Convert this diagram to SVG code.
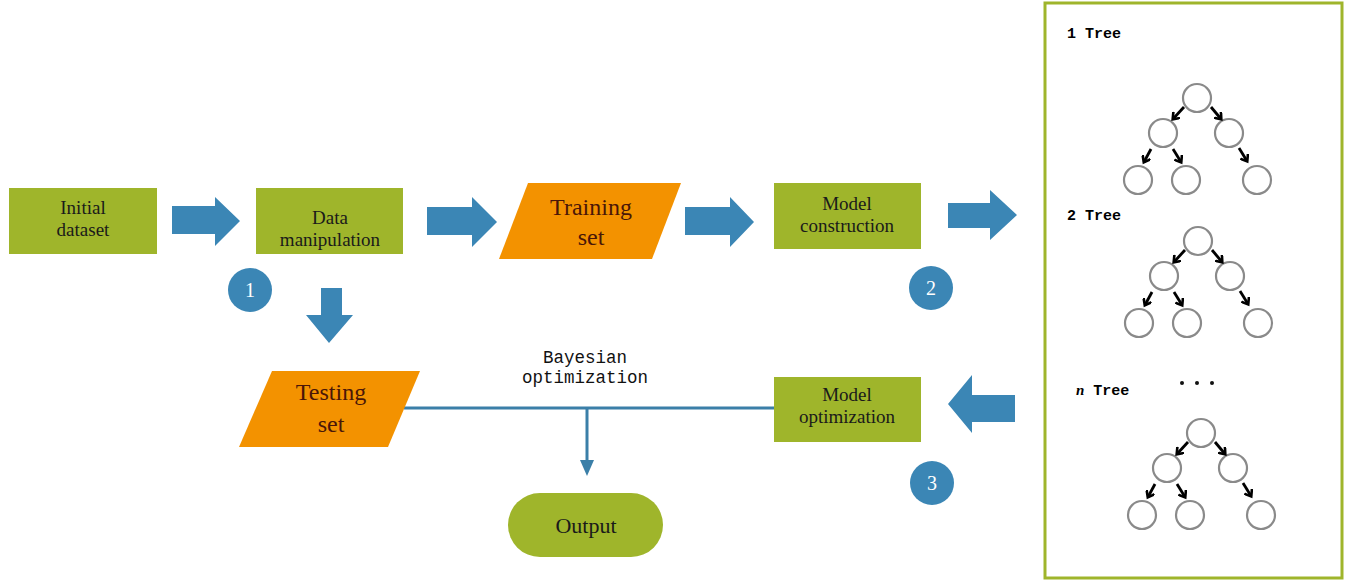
<svg xmlns="http://www.w3.org/2000/svg" width="1352" height="582" viewBox="0 0 1352 582">
<style>
.box{fill:#9fb52b}
.para{fill:#f39200}
.barrow{fill:#3b86b5}
.lbl{font-family:"Liberation Serif","Times New Roman",serif;font-size:19px;fill:#1a1a1a;text-anchor:middle}
.lblo{font-family:"Liberation Serif","Times New Roman",serif;font-size:24px;fill:#4a1608;text-anchor:middle}
.num{font-family:"Liberation Serif",serif;font-size:20px;fill:#ffffff;text-anchor:middle}
.mono{font-family:"Liberation Mono","DejaVu Sans Mono",monospace;font-size:17.5px;fill:#111;text-anchor:middle}
.tlab{font-family:"Liberation Mono","DejaVu Sans Mono",monospace;font-size:15px;fill:#000;font-weight:bold}
.node{fill:none;stroke:#8a8a8a;stroke-width:2.2}
.tarr{stroke:#000;stroke-width:2.8;fill:none;marker-end:url(#ah)}
.bline{stroke:#3b7fa8;stroke-width:3;fill:none}
</style>
<defs>
<marker id="ah" markerWidth="10" markerHeight="10" refX="6" refY="5" orient="auto" markerUnits="userSpaceOnUse">
<path d="M0.5,0.5 L6.5,5 L0.5,9.5" fill="none" stroke="#000" stroke-width="2.6"/>
</marker>
<g id="tree">
<circle class="node" cx="0" cy="0" r="14"/>
<circle class="node" cx="-34" cy="35" r="14"/>
<circle class="node" cx="32" cy="35" r="14"/>
<circle class="node" cx="-59" cy="82" r="14"/>
<circle class="node" cx="-11" cy="82" r="14"/>
<circle class="node" cx="60" cy="82" r="14"/>
<path class="tarr" d="M-13,9 L-24,21"/>
<path class="tarr" d="M14,9 L24,21"/>
<path class="tarr" d="M-46,51 L-53,64"/>
<path class="tarr" d="M-24,51 L-16,64"/>
<path class="tarr" d="M42,50 L50,63"/>
</g>
</defs>
<rect width="1352" height="582" fill="#ffffff"/>

<g id="connectors">
<polygon class="barrow" points="172,206 215,206 215,197 240,221 215,246 215,234 172,234"/>
<polygon class="barrow" points="427,207 472,207 472,197 497,222 472,247 472,235 427,235"/>
<polygon class="barrow" points="685,207 730,207 730,197 754,222 730,247 730,235 685,235"/>
<polygon class="barrow" points="948,203 990,203 990,190 1017,215 990,240 990,228 948,228"/>
<polygon class="barrow" points="321,288 342,288 342,315 353,315 329,343 306,315 321,315"/>
<polygon class="barrow" points="1015,395 972,395 972,375 948,404 972,433 972,422 1015,422"/>
<path class="bline" d="M404,408 L774,408"/>
<path class="bline" d="M587,408 L587,462"/>
<polygon fill="#3b7fa8" points="580,460 594,460 587,476"/>
<text class="mono" x="585" y="363">Bayesian</text>
<text class="mono" x="585" y="383">optimization</text>
</g>

<g id="initial-dataset">
<rect class="box" x="9" y="188" width="148" height="66"/>
<text class="lbl" x="83" y="214">Initial</text>
<text class="lbl" x="83" y="236">dataset</text>
</g>
<g id="data-manipulation">
<rect class="box" x="256" y="188" width="147" height="66"/>
<text class="lbl" x="330" y="224">Data</text>
<text class="lbl" x="330" y="246">manipulation</text>
</g>
<g id="circle-1">
<circle class="barrow" cx="250" cy="290" r="22"/>
<text class="num" x="250" y="297">1</text>
</g>
<g id="training-set">
<polygon class="para" points="528,183 681,183 652,259 499,259"/>
<text class="lblo" x="591" y="215">Training</text>
<text class="lblo" x="591" y="245">set</text>
</g>
<g id="model-construction">
<rect class="box" x="774" y="183" width="147" height="66"/>
<text class="lbl" x="847" y="210">Model</text>
<text class="lbl" x="847" y="232">construction</text>
</g>
<g id="circle-2">
<circle class="barrow" cx="931" cy="288" r="22"/>
<text class="num" x="931" y="295">2</text>
</g>
<g id="testing-set">
<polygon class="para" points="272,371 420,371 388,447 239,447"/>
<text class="lblo" x="331" y="400">Testing</text>
<text class="lblo" x="331" y="432">set</text>
</g>
<g id="model-optimization">
<rect class="box" x="774" y="377" width="147" height="65"/>
<text class="lbl" x="847" y="401">Model</text>
<text class="lbl" x="847" y="423">optimization</text>
</g>
<g id="circle-3">
<circle class="barrow" cx="932" cy="483" r="22"/>
<text class="num" x="932" y="490">3</text>
</g>
<g id="output">
<rect class="box" x="508" y="493" width="155" height="64" rx="32"/>
<text class="lbl" x="586" y="533" style="font-size:22px">Output</text>
</g>

<g id="forest">
<rect x="1045" y="3" width="297" height="575" fill="#ffffff" stroke="#9fb52b" stroke-width="3"/>
<text class="tlab" x="1067" y="38">1 Tree</text>
<use href="#tree" x="1197" y="98"/>
<text class="tlab" x="1067" y="220">2 Tree</text>
<use href="#tree" x="1198" y="241"/>
<circle cx="1182" cy="383" r="2" fill="#111"/>
<circle cx="1197" cy="383" r="2" fill="#111"/>
<circle cx="1212" cy="383" r="2" fill="#111"/>
<text class="tlab" x="1076" y="395"><tspan font-style="italic" font-weight="bold" font-family="Liberation Serif,serif">n</tspan> Tree</text>
<use href="#tree" x="1201" y="433"/>
</g>
</svg>
